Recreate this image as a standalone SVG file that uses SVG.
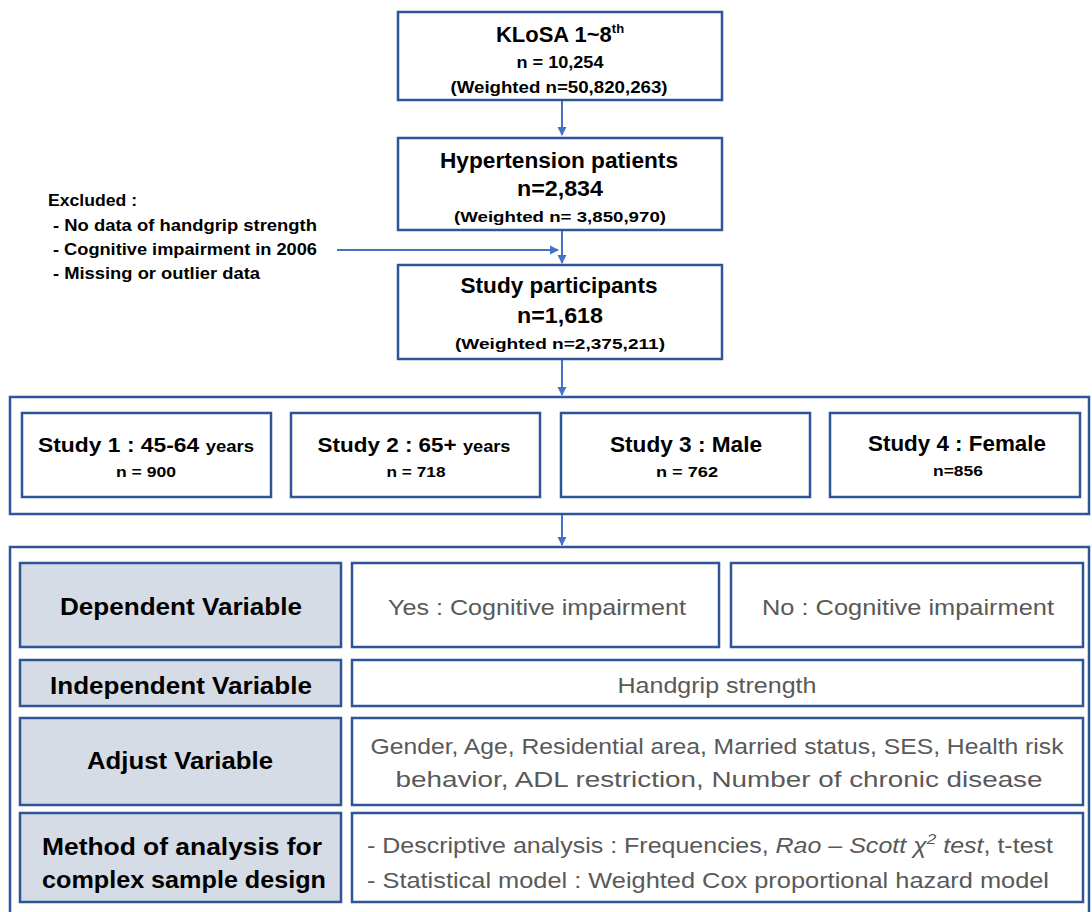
<svg xmlns="http://www.w3.org/2000/svg" width="1092" height="912" viewBox="0 0 1092 912">
<style>
.bx{fill:#fff;stroke:#2F5597;stroke-width:2.5}
.gb{fill:#D6DCE5;stroke:#2F5597;stroke-width:2.5}
.ct{fill:none;stroke:#2F5597;stroke-width:2.5}
.ln{stroke:#4472C4;stroke-width:2;fill:none}
text{font-family:"Liberation Sans",Arial,sans-serif;fill:#000}
.b{font-weight:bold}
.c{text-anchor:middle}
.g{fill:#595959}
</style>
<defs>
<marker id="ah" markerWidth="10" markerHeight="10" refX="8" refY="5" orient="auto" markerUnits="userSpaceOnUse">
<path d="M0,0.5 L9,5 L0,9.5 z" fill="#4472C4"/>
</marker>
</defs>
<g id="connectors">
<line class="ln" x1="562" y1="100" x2="562" y2="135" marker-end="url(#ah)"/>
<line class="ln" x1="562" y1="230" x2="562" y2="263" marker-end="url(#ah)"/>
<line class="ln" x1="337" y1="250" x2="558" y2="250" marker-end="url(#ah)"/>
<line class="ln" x1="562" y1="359" x2="562" y2="395" marker-end="url(#ah)"/>
<line class="ln" x1="562" y1="514" x2="562" y2="545" marker-end="url(#ah)"/>
</g>
<g id="n-klosa">
<rect class="bx" x="398" y="12" width="324" height="88"/>
<text class="b c" x="560" y="42" font-size="22">KLoSA 1~8<tspan font-size="13" dy="-9">th</tspan></text>
<text class="b c" x="560" y="68" font-size="16" textLength="87" lengthAdjust="spacingAndGlyphs">n = 10,254</text>
<text class="b c" x="559" y="93" font-size="16" textLength="217" lengthAdjust="spacingAndGlyphs">(Weighted n=50,820,263)</text>
</g>
<g id="n-hypertension">
<rect class="bx" x="398" y="138" width="324" height="92"/>
<text class="b c" x="559" y="168" font-size="22" textLength="238" lengthAdjust="spacingAndGlyphs">Hypertension patients</text>
<text class="b c" x="560" y="196" font-size="22" textLength="86" lengthAdjust="spacingAndGlyphs">n=2,834</text>
<text class="b c" x="560" y="222" font-size="15" textLength="212" lengthAdjust="spacingAndGlyphs">(Weighted n= 3,850,970)</text>
</g>
<g id="n-excluded">
<text class="b" x="48" y="206" font-size="16" textLength="89" lengthAdjust="spacingAndGlyphs">Excluded :</text>
<text class="b" x="53" y="231" font-size="16" textLength="264" lengthAdjust="spacingAndGlyphs">- No data of handgrip strength</text>
<text class="b" x="53" y="255" font-size="16" textLength="264" lengthAdjust="spacingAndGlyphs">- Cognitive impairment in 2006</text>
<text class="b" x="53" y="279" font-size="16" textLength="207" lengthAdjust="spacingAndGlyphs">- Missing or outlier data</text>
</g>
<g id="n-participants">
<rect class="bx" x="398" y="265" width="324" height="94"/>
<text class="b c" x="559" y="293" font-size="22" textLength="197" lengthAdjust="spacingAndGlyphs">Study participants</text>
<text class="b c" x="560" y="323" font-size="22" textLength="86" lengthAdjust="spacingAndGlyphs">n=1,618</text>
<text class="b c" x="560" y="349" font-size="15" textLength="210" lengthAdjust="spacingAndGlyphs">(Weighted n=2,375,211)</text>
</g>
<g id="n-studies">
<rect class="ct" x="10" y="397" width="1079" height="117"/>
</g>
<g id="n-study1">
<rect class="bx" x="22" y="413" width="249" height="84"/>
<text class="b c" x="146" y="452" font-size="21" textLength="216" lengthAdjust="spacingAndGlyphs">Study 1 : 45-64 <tspan font-size="17">years</tspan></text>
<text class="b c" x="146" y="477" font-size="15" textLength="60" lengthAdjust="spacingAndGlyphs">n = 900</text>
</g>
<g id="n-study2">
<rect class="bx" x="291" y="413" width="249" height="84"/>
<text class="b c" x="414" y="452" font-size="21" textLength="193" lengthAdjust="spacingAndGlyphs">Study 2 : 65+ <tspan font-size="17">years</tspan></text>
<text class="b c" x="416" y="477" font-size="15" textLength="59" lengthAdjust="spacingAndGlyphs">n = 718</text>
</g>
<g id="n-study3">
<rect class="bx" x="561" y="413" width="249" height="84"/>
<text class="b c" x="686" y="452" font-size="22" textLength="152" lengthAdjust="spacingAndGlyphs">Study 3 : Male</text>
<text class="b c" x="687" y="477" font-size="15" textLength="62" lengthAdjust="spacingAndGlyphs">n = 762</text>
</g>
<g id="n-study4">
<rect class="bx" x="830" y="413" width="250" height="84"/>
<text class="b c" x="957" y="451" font-size="22" textLength="178" lengthAdjust="spacingAndGlyphs">Study 4 : Female</text>
<text class="b c" x="958" y="476" font-size="15" textLength="50" lengthAdjust="spacingAndGlyphs">n=856</text>
</g>
<g id="n-design">
<rect class="ct" x="10" y="547" width="1079" height="380"/>
</g>
<g id="n-dep">
<rect class="gb" x="20" y="563" width="321" height="84"/>
<text class="b c" x="181" y="615" font-size="23" textLength="242" lengthAdjust="spacingAndGlyphs">Dependent Variable</text>
</g>
<g id="n-yes">
<rect class="bx" x="352" y="563" width="367" height="84"/>
<text class="c g" x="537" y="615" font-size="22" textLength="298" lengthAdjust="spacingAndGlyphs">Yes : Cognitive impairment</text>
</g>
<g id="n-no">
<rect class="bx" x="731" y="563" width="352" height="84"/>
<text class="c g" x="908" y="615" font-size="22" textLength="292" lengthAdjust="spacingAndGlyphs">No : Cognitive impairment</text>
</g>
<g id="n-indep">
<rect class="gb" x="20" y="660" width="321" height="46"/>
<text class="b c" x="181" y="694" font-size="23" textLength="262" lengthAdjust="spacingAndGlyphs">Independent Variable</text>
</g>
<g id="n-handgrip">
<rect class="bx" x="352" y="660" width="731" height="46"/>
<text class="c g" x="717" y="693" font-size="22" textLength="199" lengthAdjust="spacingAndGlyphs">Handgrip strength</text>
</g>
<g id="n-adj">
<rect class="gb" x="20" y="718" width="321" height="87"/>
<text class="b c" x="180" y="769" font-size="23" textLength="186" lengthAdjust="spacingAndGlyphs">Adjust Variable</text>
</g>
<g id="n-adjvars">
<rect class="bx" x="352" y="718" width="731" height="87"/>
<text class="c g" x="717" y="754" font-size="22" textLength="693" lengthAdjust="spacingAndGlyphs">Gender, Age, Residential area, Married status, SES, Health risk</text>
<text class="c g" x="719" y="787" font-size="22" textLength="647" lengthAdjust="spacingAndGlyphs">behavior, ADL restriction, Number of  chronic disease</text>
</g>
<g id="n-method">
<rect class="gb" x="20" y="813" width="321" height="89"/>
<text class="b c" x="182" y="855" font-size="24" textLength="280" lengthAdjust="spacingAndGlyphs">Method of analysis for</text>
<text class="b c" x="184" y="888" font-size="24" textLength="284" lengthAdjust="spacingAndGlyphs">complex sample design</text>
</g>
<g id="n-methods">
<rect class="bx" x="352" y="813" width="731" height="89"/>
<text class="g" x="367" y="853" font-size="22" textLength="686" lengthAdjust="spacingAndGlyphs">- Descriptive analysis : Frequencies, <tspan font-style="italic">Rao – Scott χ<tspan font-size="15" dy="-9">2</tspan><tspan dy="9"> test</tspan></tspan>, t-test</text>
<text class="g" x="367" y="888" font-size="22" textLength="682" lengthAdjust="spacingAndGlyphs">- Statistical model : Weighted Cox proportional hazard model</text>
</g>
</svg>
